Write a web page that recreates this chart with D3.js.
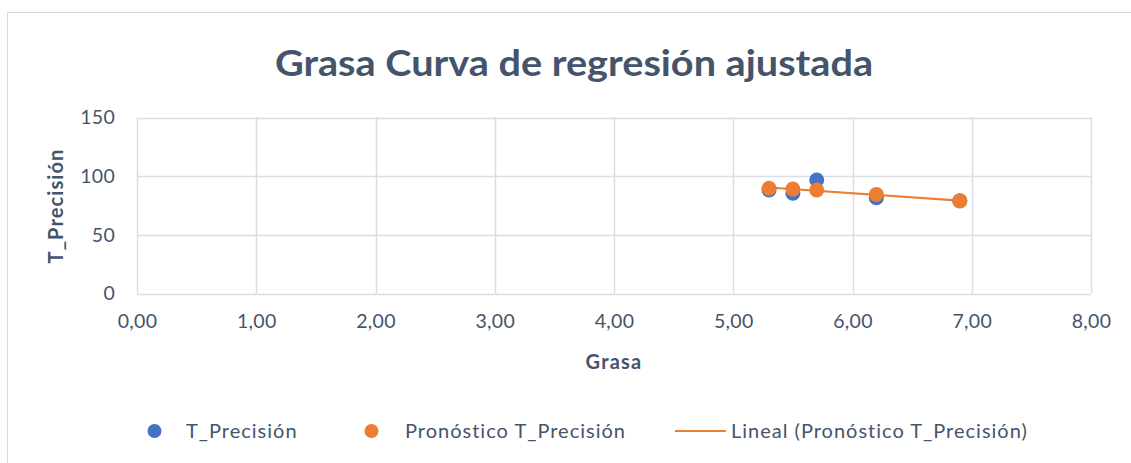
<!DOCTYPE html>
<html>
<head>
<meta charset="utf-8">
<script src="https://cdn.jsdelivr.net/npm/d3@7"></script>
<style>
  html, body { margin: 0; padding: 0; background: #fff; }
  svg { display: block; }
  text { font-family: Lato, "Open Sans", sans-serif; }
</style>
</head>
<body>
<svg id="chart" width="1131" height="463"></svg>
<script>
const titleText = "Grasa Curva de regresión ajustada";
const xTitle = "Grasa";
const yTitle = "T_Precisión";
const seriesNames = ["T_Precisión", "Pronóstico T_Precisión", "Lineal (Pronóstico T_Precisión)"];
const grasa = [5.3, 5.5, 5.7, 6.2, 6.9];
const tPrecision = [88.2, 85.4, 96.7, 81.7, 79.0];
const pronostico = [89.7, 89.0, 88.2, 84.4, 78.9];
const xTicks = [0, 1, 2, 3, 4, 5, 6, 7, 8];
const yTicks = [0, 50, 100, 150];

const svg = d3.select("#chart");
const textColor = "#44546A";
const gridColor = "#D9DEE6";
const blue = "#4472C4", orange = "#ED7D31";

// chart border
svg.append("rect").attr("x", 7.5).attr("y", 12.5).attr("width", 1200).attr("height", 500)
  .attr("fill", "none").attr("stroke", "#D9D9D9").attr("stroke-width", 1);

const x = d3.scaleLinear().domain([0, 8]).range([137, 1091]);
const y = d3.scaleLinear().domain([0, 150]).range([293.5, 117.5]);

// gridlines
svg.append("g").selectAll("line.v").data(xTicks).join("line")
  .attr("x1", d => Math.round(x(d)) + 0.5).attr("x2", d => Math.round(x(d)) + 0.5)
  .attr("y1", y(150)).attr("y2", y(0))
  .attr("stroke", gridColor).attr("stroke-width", 1.5);
svg.append("g").selectAll("line.h").data(yTicks).join("line")
  .attr("x1", x(0)).attr("x2", x(8))
  .attr("y1", d => Math.round(y(d)) + 0.5).attr("y2", d => Math.round(y(d)) + 0.5)
  .attr("stroke", gridColor).attr("stroke-width", 1.5);

// axes (labels only)
const fmt = d => d.toFixed(2).replace(".", ",");
const xAxis = svg.append("g").attr("transform", `translate(0,${y(0)})`)
  .call(d3.axisBottom(x).tickValues(xTicks).tickFormat(fmt).tickSize(0).tickPadding(21));
const yAxis = svg.append("g").attr("transform", `translate(${x(0)},0)`)
  .call(d3.axisLeft(y).tickValues(yTicks).tickSize(0).tickPadding(22));
[xAxis, yAxis].forEach(a => {
  a.select(".domain").remove();
  a.selectAll("text").attr("fill", textColor).style("font-size", "19.5px")
    .style("font-family", "Lato, sans-serif").style("letter-spacing", "0.3px");
});

// title
svg.append("text").attr("x", 574).attr("y", 76).attr("text-anchor", "middle")
  .attr("fill", textColor).style("font-size", "37px").style("font-weight", "bold")
  .attr("textLength", 598).attr("lengthAdjust", "spacingAndGlyphs")
  .text(titleText);

// axis titles
svg.append("text").attr("x", 614).attr("y", 369).attr("text-anchor", "middle")
  .attr("fill", textColor).style("font-size", "20px").style("font-weight", "bold")
  .style("letter-spacing", "1.2px").text(xTitle);
svg.append("text").attr("transform", "translate(63,206) rotate(-90)").attr("text-anchor", "middle")
  .attr("fill", textColor).style("font-size", "20px").style("font-weight", "bold")
  .style("letter-spacing", "1.1px").text(yTitle);

// trendline: least squares on forecast series
const mx = d3.mean(grasa), my = d3.mean(pronostico);
const b = d3.sum(grasa.map((g, i) => (g - mx) * (pronostico[i] - my))) / d3.sum(grasa.map(g => (g - mx) ** 2));
const a0 = my - b * mx;
const xExt = d3.extent(grasa);
svg.append("path")
  .datum(xExt.map(g => [g, a0 + b * g]))
  .attr("d", d3.line().x(d => x(d[0])).y(d => y(d[1])))
  .attr("stroke", orange).attr("stroke-width", 2.2).attr("fill", "none");

// points
svg.append("g").selectAll("circle").data(grasa.map((g, i) => [g, tPrecision[i]])).join("circle")
  .attr("cx", d => x(d[0])).attr("cy", d => y(d[1])).attr("r", 7.5).attr("fill", blue);
svg.append("g").selectAll("circle").data(grasa.map((g, i) => [g, pronostico[i]])).join("circle")
  .attr("cx", d => x(d[0])).attr("cy", d => y(d[1])).attr("r", 7.5).attr("fill", orange);

// legend
const ly = 431;
const lg = svg.append("g");
const legStyle = sel => sel.attr("fill", textColor).style("font-size", "20px").style("letter-spacing", "1px");
lg.append("circle").attr("cx", 154.5).attr("cy", ly).attr("r", 7).attr("fill", blue);
lg.append("text").attr("x", 186).attr("y", ly).attr("dy", "0.35em").call(legStyle).text(seriesNames[0]);
lg.append("circle").attr("cx", 371.5).attr("cy", ly).attr("r", 7).attr("fill", orange);
lg.append("text").attr("x", 405).attr("y", ly).attr("dy", "0.35em").call(legStyle).text(seriesNames[1]);
lg.append("line").attr("x1", 675).attr("x2", 726).attr("y1", ly).attr("y2", ly)
  .attr("stroke", orange).attr("stroke-width", 2.2);
lg.append("text").attr("x", 731).attr("y", ly).attr("dy", "0.35em").call(legStyle).text(seriesNames[2]);
</script>
</body>
</html>
